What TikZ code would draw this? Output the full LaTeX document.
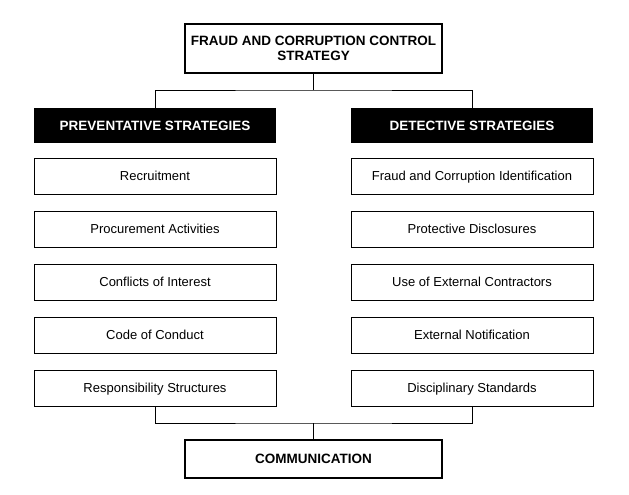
\documentclass[tikz,border=0pt]{standalone}
\usepackage{fontspec}
\setmainfont{Liberation Sans}
\begin{document}
\begin{tikzpicture}[x=1pt,y=-1pt,
  box/.style={draw,line width=0.8pt,minimum width=242pt,minimum height=36pt,inner sep=0pt,text depth=0pt,font=\fontsize{13}{15}\selectfont},
  hdr/.style={fill=black,text=white,minimum width=242pt,minimum height=35pt,inner sep=0pt,text depth=0pt,font=\fontsize{13.5}{15}\selectfont\bfseries},
  big/.style={draw,line width=1.5pt,minimum width=257pt,inner sep=0pt,align=center,font=\fontsize{13.5}{15}\selectfont\bfseries},
  ln/.style={line width=0.8pt}]
\useasboundingbox (0,0) rectangle (629,495);
\node[big,minimum height=49pt] (top) at (313.5,48.5) {FRAUD AND CORRUPTION CONTROL\\STRATEGY};
\node[hdr] (lh) at (155,125.5) {PREVENTATIVE STRATEGIES};
\node[hdr] (rh) at (472,125.5) {DETECTIVE STRATEGIES};
\node[box] (l1) at (155,176) {Recruitment};
\node[box] (l2) at (155,229) {Procurement Activities};
\node[box] (l3) at (155,282) {Conflicts of Interest};
\node[box] (l4) at (155,335) {Code of Conduct};
\node[box] (l5) at (155,388) {Responsibility Structures};
\node[box] (r1) at (472,176) {Fraud and Corruption Identification};
\node[box] (r2) at (472,229) {Protective Disclosures};
\node[box] (r3) at (472,282) {Use of External Contractors};
\node[box] (r4) at (472,335) {External Notification};
\node[box] (r5) at (472,388) {Disciplinary Standards};
\node[big,minimum height=38pt,text depth=0pt] (bot) at (313.5,459) {COMMUNICATION};
\coordinate (tj) at (313.5,90);
\coordinate (bj) at (313.5,423);
\draw[ln] (top.south) -- (tj);
\draw[ln] (lh.north) |- (tj) -| (rh.north);
\draw[ln] (l5.south) |- (bj) -| (r5.south);
\draw[ln] (bj) -- (bot.north);
\end{tikzpicture}
\end{document}
